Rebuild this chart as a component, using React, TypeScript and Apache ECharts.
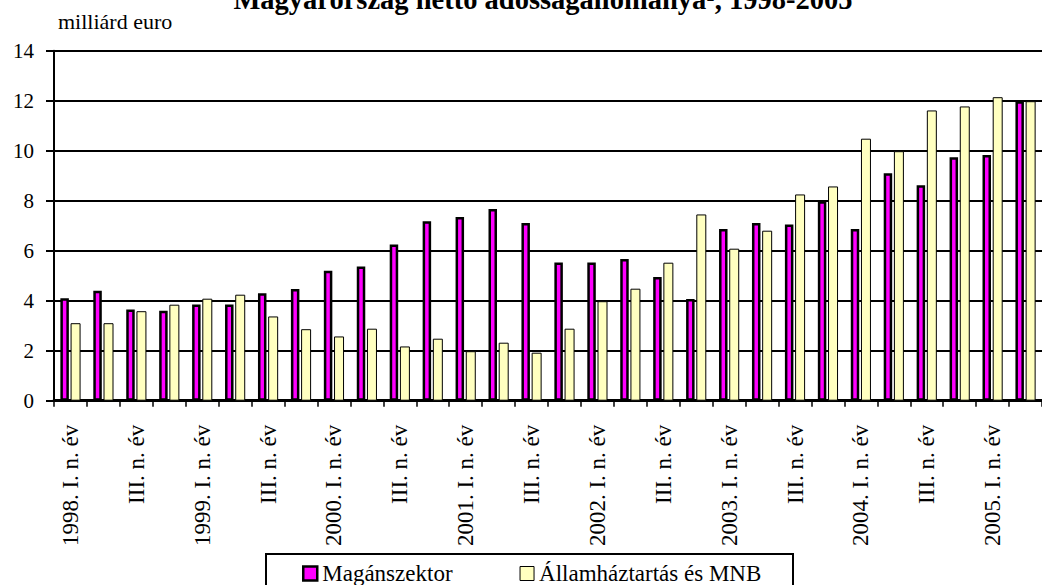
import React, { useEffect, useRef } from 'react';
import * as echarts from 'echarts';

const categories = [
  '1998. I. n. év', 'II. n. év', 'III. n. év', 'IV. n. év',
  '1999. I. n. év', 'II. n. év', 'III. n. év', 'IV. n. év',
  '2000. I. n. év', 'II. n. év', 'III. n. év', 'IV. n. év',
  '2001. I. n. év', 'II. n. év', 'III. n. év', 'IV. n. év',
  '2002. I. n. év', 'II. n. év', 'III. n. év', 'IV. n. év',
  '2003. I. n. év', 'II. n. év', 'III. n. év', 'IV. n. év',
  '2004. I. n. év', 'II. n. év', 'III. n. év', 'IV. n. év',
  '2005. I. n. év', 'II. n. év',
];

const privateSector = [
  4.1, 4.4, 3.65, 3.6, 3.85, 3.85, 4.3, 4.47, 5.2, 5.37,
  6.25, 7.18, 7.35, 7.67, 7.11, 5.53, 5.53, 5.67, 4.95, 4.07,
  6.87, 7.11, 7.05, 7.98, 6.87, 9.1, 8.62, 9.74, 9.83, 11.98,
];

const govAndMnb = [
  3.1, 3.1, 3.58, 3.84, 4.08, 4.24, 3.37, 2.86, 2.57, 2.88,
  2.17, 2.48, 1.98, 2.32, 1.92, 2.88, 3.98, 4.48, 5.52, 7.45,
  6.08, 6.8, 8.25, 8.57, 10.48, 9.98, 11.61, 11.77, 12.14, 11.98,
];

const seriesNames = ['Magánszektor', 'Államháztartás és MNB'];
const yTicks = { min: 0, max: 14, interval: 2 };
const titleText = 'Magyarország nettó adósságállománya¹, 1998-2005';
const unitText = 'milliárd euro';

const FONT = 'Liberation Serif';

export default function App() {
  const ref = useRef<HTMLDivElement>(null);
  useEffect(() => {
    if (!ref.current) return;
    const chart = echarts.init(ref.current, undefined, { renderer: 'svg' });
    chart.setOption({
      animation: false,
      backgroundColor: '#ffffff',
      textStyle: { fontFamily: FONT },
      grid: { left: 54, top: 50.7, width: 999.3, height: 350, containLabel: false },
      xAxis: {
        type: 'category',
        data: categories,
        axisLine: { lineStyle: { color: '#000', width: 3 } },
        axisTick: { show: true, interval: 0, length: 6, lineStyle: { color: '#000', width: 1.5 } },
        axisLabel: {
          interval: 1, rotate: 90, margin: 24, color: '#000',
          fontSize: 23, fontFamily: FONT,
        },
        splitLine: { show: false },
      },
      yAxis: {
        type: 'value',
        min: yTicks.min, max: yTicks.max, interval: yTicks.interval,
        axisLine: { show: true, lineStyle: { color: '#000', width: 2 } },
        axisTick: { show: true, length: 8, lineStyle: { color: '#000', width: 2 } },
        axisLabel: { margin: 20, color: '#000', fontSize: 21, fontFamily: FONT },
        splitLine: { show: true, lineStyle: { color: '#000', width: 2 } },
      },
      legend: {
        left: 302, top: 562, padding: 0, itemGap: 67,
        itemWidth: 14, itemHeight: 14, icon: 'rect',
        textStyle: { fontSize: 23, color: '#000', fontFamily: FONT },
        data: [
          { name: seriesNames[0], itemStyle: { borderWidth: 2.5, borderColor: '#000' } },
          { name: seriesNames[1], itemStyle: { borderWidth: 1, borderColor: '#000' } },
        ],
      },
      graphic: [
        {
          type: 'text', x: 543, y: -1, z: 10,
          style: {
            text: titleText, fontSize: 28.5, fontWeight: 'bold', fontFamily: FONT,
            fill: '#000', align: 'center', verticalAlign: 'middle',
          },
        },
        {
          type: 'text', x: 58, y: 21, z: 10,
          style: {
            text: unitText, fontSize: 22, fontFamily: FONT,
            fill: '#000', align: 'left', verticalAlign: 'middle',
          },
        },
        {
          type: 'rect', z: 5,
          shape: { x: 266, y: 554, width: 527, height: 60 },
          style: { fill: 'none', stroke: '#000', lineWidth: 2 },
        },
      ],
      series: [
        {
          name: seriesNames[0], type: 'bar', data: privateSector,
          barWidth: 8.5, barGap: '20%',
          itemStyle: { color: '#FF00FF', borderColor: '#000', borderWidth: 2.5 },
        },
        {
          name: seriesNames[1], type: 'bar', data: govAndMnb,
          barWidth: 10,
          itemStyle: { color: '#FFFFC0', borderColor: '#000', borderWidth: 1 },
        },
      ],
    });
    return () => chart.dispose();
  }, []);
  return (
    <div
      ref={ref}
      style={{ position: 'fixed', left: 0, top: 0, width: 1042, height: 585 }}
    />
  );
}
